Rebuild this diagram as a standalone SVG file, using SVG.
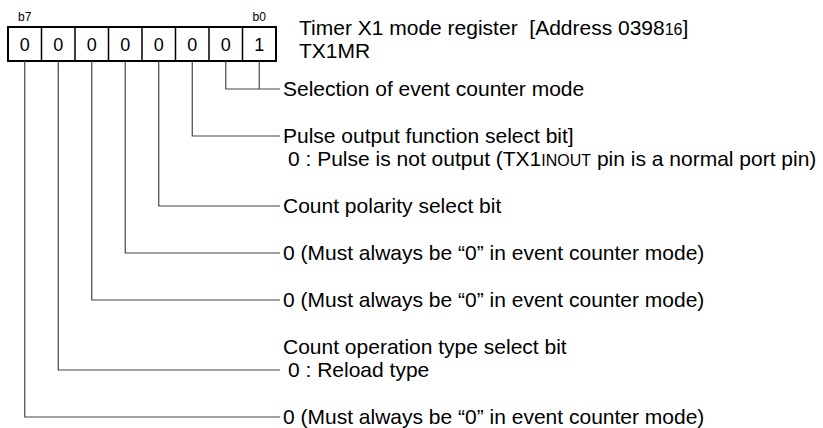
<svg xmlns="http://www.w3.org/2000/svg" width="823" height="428" viewBox="0 0 823 428">
<style>
  text { font-family: "Liberation Sans", Arial, sans-serif; fill: #000; }
  .lbl { font-size: 21px; }
  .bit { font-size: 18px; text-anchor: middle; }
  .bn { font-size: 12px; text-anchor: middle; }
  .sub { font-size: 16px; }
  .box { fill: #fff; stroke: #000; stroke-width: 2; }
  .div { stroke: #000; stroke-width: 1.5; }
  .con { fill: none; stroke: #444; stroke-width: 1.2; }
</style>
<rect width="823" height="428" fill="#fff"/>

<g id="register">
  <rect class="box" x="8" y="27" width="268" height="34"/>
  <path class="div" d="M41.5 27V61M75 27V61M108.5 27V61M142 27V61M175.5 27V61M209 27V61M242.5 27V61"/>
  <text class="bn" x="24.75" y="21">b7</text>
  <text class="bn" x="259.25" y="21">b0</text>
  <text class="bit" x="24.75" y="51">0</text>
  <text class="bit" x="58.25" y="51">0</text>
  <text class="bit" x="91.75" y="51">0</text>
  <text class="bit" x="125.25" y="51">0</text>
  <text class="bit" x="158.75" y="51">0</text>
  <text class="bit" x="192.25" y="51">0</text>
  <text class="bit" x="225.75" y="51">0</text>
  <text class="bit" x="259.25" y="51">1</text>
</g>

<g id="title">
  <text class="lbl" x="299" y="35" xml:space="preserve">Timer X1 mode register  [Address 0398<tspan class="sub">16</tspan>]</text>
  <text class="lbl" x="299" y="58">TX1MR</text>
</g>

<g id="connectors">
  <path class="con" d="M259.25 61V89"/>
  <path class="con" d="M225.75 61V89H280"/>
  <path class="con" d="M192.25 61V136H280"/>
  <path class="con" d="M158.75 61V206H280"/>
  <path class="con" d="M125.25 61V253H280"/>
  <path class="con" d="M91.75 61V300H280"/>
  <path class="con" d="M58.25 61V370H280"/>
  <path class="con" d="M24.75 61V417H280"/>
</g>

<g id="label-b1b0">
  <text class="lbl" x="283" y="96">Selection of event counter mode</text>
</g>
<g id="label-b2">
  <text class="lbl" x="283" y="143">Pulse output function select bit]</text>
  <text class="lbl" x="288" y="166">0 : Pulse is not output (TX1<tspan class="sub">INOUT</tspan> pin is a normal port pin)</text>
</g>
<g id="label-b3">
  <text class="lbl" x="283" y="213">Count polarity select bit</text>
</g>
<g id="label-b4">
  <text class="lbl" x="283" y="260">0 (Must always be “0” in event counter mode)</text>
</g>
<g id="label-b5">
  <text class="lbl" x="283" y="307">0 (Must always be “0” in event counter mode)</text>
</g>
<g id="label-b6">
  <text class="lbl" x="283" y="354">Count operation type select bit</text>
  <text class="lbl" x="288" y="377">0 : Reload type</text>
</g>
<g id="label-b7">
  <text class="lbl" x="283" y="424">0 (Must always be “0” in event counter mode)</text>
</g>
</svg>
